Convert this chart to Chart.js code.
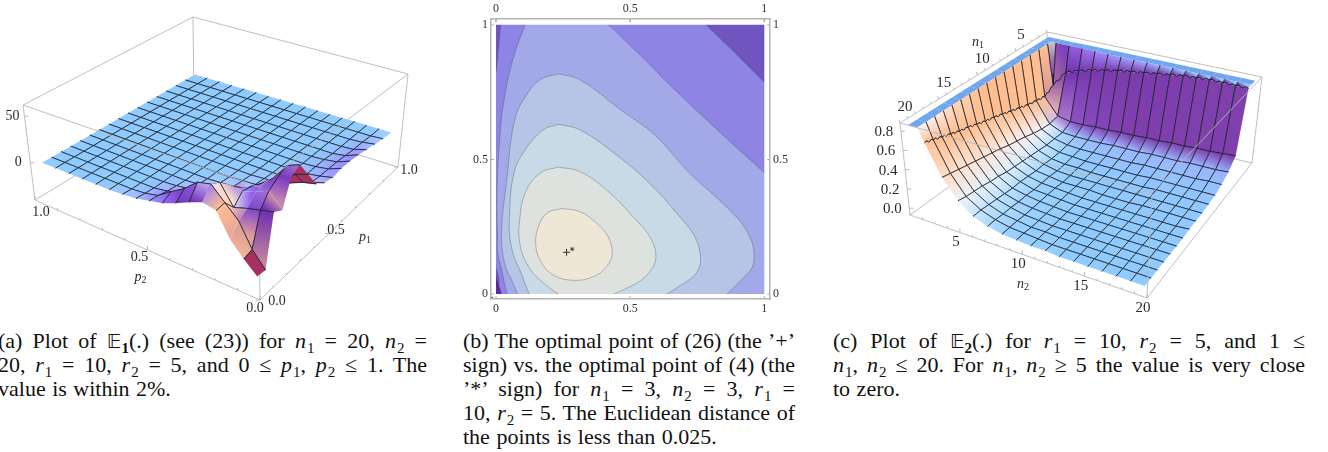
<!DOCTYPE html>
<html>
<head>
<meta charset="utf-8">
<script src="https://cdn.jsdelivr.net/npm/chart.js@4"></script>
<style>
body { margin: 0; background: #fff; overflow: hidden; }
canvas { position: absolute; }
.line { position: absolute; height: 24px; font: 22px/24px "Liberation Serif", serif; color: #111; text-align: justify; text-align-last: justify; }
.line.last { text-align: left; text-align-last: left; word-spacing: 1px; }
.line i { letter-spacing: 1px; }
.line sub { font-size: 15px; line-height: 0; }
.line .bb { font-family: "DejaVu Sans", serif; font-size: 20px; }
</style>
</head>
<body>
<canvas id="plotA" width="440" height="320" style="left:0;top:0"></canvas>
<canvas id="plotB" width="340" height="320" style="left:460px;top:0"></canvas>
<canvas id="plotC" width="420" height="320" style="left:870px;top:0"></canvas>
<div id="captions"></div>
<script>
// Plot (a): E1 over p1 (rows) and p2 (columns), 17 x 17 mesh points
var p1Ticks = [0, 0.5, 1];
var p2Ticks = [0, 0.5, 1];
var zTicksA = [0, 50];
var surfaceA = [
	[-25,-14,-1,21,24,19,13,8,5,2,1,0,0,0,0,0,0],
	[-26,-12,10,22,35,32,21,13,4,1,0,0,0,0,0,0,0],
	[21,18,15,11,30,22,12,6,2,0,0,0,0,0,0,0,0],
	[16,30,24,20,22,12,6,3,1,0,0,0,0,0,0,0,0],
	[41,36,26,18,12,6,3,1,0,0,0,0,0,0,0,0,0],
	[46,41,24,14,5,2,1,0,0,0,0,0,0,0,0,0,0],
	[30,26,14,4,2,1,0,0,0,0,0,0,0,0,0,0,0],
	[14,11,6,2,1,0,0,0,0,0,0,0,0,0,0,0,0],
	[8,4,2,1,0,0,0,0,0,0,0,0,0,0,0,0,0],
	[6,3,1,0,0,0,0,0,0,0,0,0,0,0,0,0,0],
	[8,3,1,0,0,0,0,0,0,0,0,0,0,0,0,0,0],
	[8,3,1,0,0,0,0,0,0,0,0,0,0,0,0,0,0],
	[7,2,0,0,0,0,0,0,0,0,0,0,0,0,0,0,0],
	[5,1,0,0,0,0,0,0,0,0,0,0,0,0,0,0,0],
	[3,1,0,0,0,0,0,0,0,0,0,0,0,0,0,0,0],
	[1,0,0,0,0,0,0,0,0,0,0,0,0,0,0,0,0],
	[0,0,0,0,0,0,0,0,0,0,0,0,0,0,0,0,0]
];
var meshStopsA = [0,1,2,3,4,5,6,7,8,9,10,11,12,13,14,15,16];

// Plot (b): contour outlines as [p, q] pairs, outermost first. Ends run past the 0..1 square, the mat and the chart area hide that
var bTickValues = [0, 0.5, 1];
var bTickLabels = ["0", "0.5", "1"];
var bandColors = ["#8e84e4", "#a3a8e8", "#b6c5e6", "#c8dae6", "#dde2df", "#efe7d6"];
var contour6 = [[0.019,1.018],[0.4,1.06],[0.725,1.06],[0.784,1],[0.856,0.93],[0.928,0.859],[1,0.788],[1.06,0.73],[1.06,0.4],[1.018,-0.018],[0.5,-0.018],[0.03,-0.018],[0.009,0.064],[-0.01,0.15],[-0.01,0.5],[-0.01,0.75],[0.002,0.839],[0.011,0.93]];
var contour5 = [[0.115,1.018],[0.25,1.05],[0.36,1.04],[0.524,0.901],[0.648,0.777],[0.846,0.591],[1,0.451],[1.05,0.405],[1.05,0.2],[1.018,-0.018],[0.5,-0.018],[0.09,-0.05],[0.015,0.114],[0.005,0.238],[0.005,0.424],[0.015,0.591],[0.027,0.703],[0.064,0.876]];
var contour4 = [[0.232,0.819],[0.164,0.796],[0.114,0.74],[0.071,0.653],[0.04,0.424],[0.021,0.238],[0.027,0.139],[0.052,0.064],[0.13,-0.05],[0.45,-0.07],[0.77,-0.05],[0.939,0.077],[0.962,0.139],[0.939,0.226],[0.871,0.312],[0.722,0.449],[0.592,0.591],[0.474,0.678],[0.313,0.796]];
var contour3 = [[0.233,0.631],[0.176,0.61],[0.108,0.535],[0.067,0.449],[0.05,0.287],[0.055,0.188],[0.083,0.102],[0.17,-0.05],[0.38,-0.07],[0.55,-0.04],[0.71,0.046],[0.753,0.089],[0.762,0.139],[0.741,0.213],[0.685,0.287],[0.573,0.411],[0.449,0.517],[0.313,0.61]];
var contour2 = [[0.232,0.472],[0.164,0.449],[0.108,0.374],[0.087,0.263],[0.087,0.201],[0.108,0.126],[0.164,0.052],[0.29,-0.03],[0.35,-0.03],[0.511,0.033],[0.573,0.083],[0.596,0.139],[0.573,0.213],[0.511,0.287],[0.412,0.387],[0.313,0.455]];
var contour1 = [[0.244,0.318],[0.189,0.3],[0.158,0.25],[0.148,0.188],[0.164,0.126],[0.213,0.071],[0.288,0.051],[0.362,0.064],[0.412,0.102],[0.433,0.149],[0.418,0.213],[0.375,0.263],[0.313,0.306]];
var cornerPatch = [[-0.01,-0.01],[-0.01,0.064],[0,0.064],[0.025,-0.01]];
var optimalPlus = [0.263, 0.155];
var optimalStar = [0.284, 0.167];

// Plot (c): E2 in hundredths over n1 (rows) and n2 (columns), the two first stops are the clipped top
var n1Ticks = [5, 10, 15, 20];
var n2Ticks = [5, 10, 15, 20];
var zTicksC = ["0.0", "0.2", "0.4", "0.6", "0.8"];
var meshStopsC = [0,0.6,1,2,3,4,5,6,7,8,9,10,11,12,13,14,15,16];
var surfaceC = [
	[86,86,86,86,86,86,86,86,86,86,86,86,86,86,86,86,86,86],
	[86,86,86,86,86,86,86,86,86,86,86,86,86,86,86,86,86,86],
	[86,86,40,58,63,67,70,73,75,77,79,81,83,84,85,85,85,85],
	[86,86,34,16,13,13,14,14,15,15,16,16,17,17,18,18,19,20],
	[86,86,36,14,8,7,7,7,8,8,8,9,9,9,10,10,10,11],
	[86,86,38,15,8,5,4,4,4,4,4,5,5,5,5,5,6,6],
	[86,86,41,17,8,4,3,2,2,2,2,2,3,3,3,3,3,3],
	[86,86,44,20,9,4,2,2,1,1,1,1,1,2,2,2,2,2],
	[86,86,47,22,10,5,2,1,1,1,1,1,1,1,1,1,1,1],
	[86,86,50,24,11,5,3,1,1,1,0,0,0,1,1,1,1,1],
	[86,86,52,27,12,6,3,2,1,0,0,0,0,0,0,0,0,1],
	[86,86,55,29,13,7,3,2,1,0,0,0,0,0,0,0,0,0],
	[86,86,58,31,15,7,4,2,1,0,0,0,0,0,0,0,0,0],
	[86,86,60,33,16,8,4,2,1,0,0,0,0,0,0,0,0,0],
	[86,86,63,35,18,9,5,2,1,0,0,0,0,0,0,0,0,0],
	[86,86,66,37,19,10,5,3,1,1,0,0,0,0,0,0,0,0],
	[86,86,69,39,20,11,6,3,2,1,0,0,0,0,0,0,0,0],
	[86,86,72,41,22,11,6,3,2,1,1,0,0,0,0,0,0,0]
];

var captionLinesA = [
	'(a) Plot of <span class="bb">𝔼</span><sub><b>1</b></sub>(.) (see (23)) for <i>n</i><sub>1</sub> = 20, <i>n</i><sub>2</sub> =',
	'20, <i>r</i><sub>1</sub> = 10, <i>r</i><sub>2</sub> = 5, and 0 ≤ <i>p</i><sub>1</sub>, <i>p</i><sub>2</sub> ≤ 1. The',
	'value is within 2%.'
];
var captionLinesB = [
	'(b) The optimal point of (26) (the ’+’',
	'sign) vs. the optimal point of (4) (the',
	'’*’ sign) for <i>n</i><sub>1</sub> = 3, <i>n</i><sub>2</sub> = 3, <i>r</i><sub>1</sub> =',
	'10, <i>r</i><sub>2</sub> = 5. The Euclidean distance of',
	'the points is less than 0.025.'
];
var captionLinesC = [
	'(c) Plot of <span class="bb">𝔼</span><sub><b>2</b></sub>(.) for <i>r</i><sub>1</sub> = 10, <i>r</i><sub>2</sub> = 5, and 1 ≤',
	'<i>n</i><sub>1</sub>, <i>n</i><sub>2</sub> ≤ 20. For <i>n</i><sub>1</sub>, <i>n</i><sub>2</sub> ≥ 5 the value is very close',
	'to zero.'
];

function addCaption(lines, left, width) {
	var holder = document.getElementById("captions");
	for (var i = 0; i < lines.length; i++) {
		var d = document.createElement("div");
		d.className = "line" + (i == lines.length - 1 ? " last" : "");
		d.style.left = left + "px";
		d.style.top = (329 + 24 * i) + "px";
		d.style.width = width + "px";
		d.innerHTML = lines[i];
		holder.appendChild(d);
	}
}
addCaption(captionLinesA, -2, 429);
addCaption(captionLinesB, 463, 332);
addCaption(captionLinesC, 833, 472);

// the box of a 3D plot is given by its 8 corners on the page, [u][v]
function project(box, u, v, w) {
	function mix(k) {
		var b = (1-u)*(1-v)*box.bottom[0][0][k] + u*(1-v)*box.bottom[1][0][k] + (1-u)*v*box.bottom[0][1][k] + u*v*box.bottom[1][1][k];
		var t = (1-u)*(1-v)*box.top[0][0][k] + u*(1-v)*box.top[1][0][k] + (1-u)*v*box.top[0][1][k] + u*v*box.top[1][1][k];
		return b + (t - b) * w;
	}
	return { x: mix(0), y: mix(1) };
}

var peachRamp = [[143,203,255],[205,234,255],[255,244,244],[255,216,188],[255,190,144]];
var purpleRamp = [[143,203,255],[154,168,255],[154,124,255],[132,72,216],[112,48,176]];

function rampColor(ramp, t) {
	var f = Math.min(0.9999, t) * (ramp.length - 1);
	var n = Math.floor(f);
	return mixColor(ramp[n], ramp[n+1], f - n);
}
function mixColor(a, b, t) {
	return [a[0]+(b[0]-a[0])*t, a[1]+(b[1]-a[1])*t, a[2]+(b[2]-a[2])*t];
}
function css(c) {
	return "rgb(" + Math.round(c[0]) + "," + Math.round(c[1]) + "," + Math.round(c[2]) + ")";
}

function buildSurface(cfg) {
	var rows = cfg.table.length, cols = cfg.table[0].length;
	var last = cfg.stops[cfg.stops.length - 1];
	function frac(s) { return cfg.inset + (1 - 2*cfg.inset) * s / last; }
	function wAt(i, j) { return (cfg.table[i][j] - cfg.zMin) / (cfg.zMax - cfg.zMin); }
	function pt(i, j) { return project(cfg.box, frac(cfg.stops[i]), frac(cfg.stops[j]), wAt(i, j)); }

	var o = project(cfg.box, 0.5, 0.5, 0.5);
	var su = project(cfg.box, 0.6, 0.5, 0.5), sv = project(cfg.box, 0.5, 0.6, 0.5);
	var sux = (su.x - o.x), svx = (sv.x - o.x);
	var sn = Math.sqrt(sux*sux + svx*svx);

	function vertexColor(i, j) {
		var i0 = Math.max(0, i-1), i1 = Math.min(rows-1, i+1);
		var j0 = Math.max(0, j-1), j1 = Math.min(cols-1, j+1);
		var gu = (wAt(i1, j) - wAt(i0, j)) / (frac(cfg.stops[i1]) - frac(cfg.stops[i0]));
		var gv = (wAt(i, j1) - wAt(i, j0)) / (frac(cfg.stops[j1]) - frac(cfg.stops[j0]));
		var steep = Math.sqrt(gu*gu + gv*gv);
		var nx = steep > 0 ? -(gu*sux + gv*svx) / (steep * sn) : 0;
		var t = Math.min(1, steep / cfg.slopeFull);
		return mixColor(rampColor(purpleRamp, t), rampColor(peachRamp, t), Math.max(0, Math.min(1, (nx * 1.6 + 1) / 2)));
	}

	// mesh segment, the first mesh line of plot (c) has small teeth
	function pushEdge(list, a, b, wavy) {
		if (wavy) {
			list.push(a,
				{ x: a.x + (b.x-a.x)*0.25, y: a.y + (b.y-a.y)*0.25 - 1.2 },
				{ x: a.x + (b.x-a.x)*0.5, y: a.y + (b.y-a.y)*0.5 + 0.8 },
				{ x: a.x + (b.x-a.x)*0.75, y: a.y + (b.y-a.y)*0.75 - 1.2 },
				b, { x: null, y: null });
		} else {
			list.push(a, b, { x: null, y: null });
		}
	}

	var cells = [];
	for (var i = 0; i < rows - 1; i++) {
		for (var j = 0; j < cols - 1; j++) {
			cells.push({ i: i, j: j, key: cfg.stops[i] + cfg.stops[j] });
		}
	}
	cells.sort(function(a, b) { return cfg.backFirst * (a.key - b.key); });

	var drawn = [];
	var ctx = cfg.ctx;
	for (var n = 0; n < cells.length; n++) {
		var i = cells[n].i, j = cells[n].j;
		var p00 = pt(i, j), p10 = pt(i+1, j), p11 = pt(i+1, j+1), p01 = pt(i, j+1);
		var area = (p10.x-p00.x)*(p11.y-p00.y) - (p11.x-p00.x)*(p10.y-p00.y)
			+ (p11.x-p00.x)*(p01.y-p00.y) - (p01.x-p00.x)*(p11.y-p00.y);
		var fill;
		var top = cfg.cap !== undefined && cfg.table[i][j] >= cfg.cap && cfg.table[i+1][j] >= cfg.cap && cfg.table[i][j+1] >= cfg.cap && cfg.table[i+1][j+1] >= cfg.cap;
		var dark = cfg.darkCell && cfg.darkCell(i, j);
		if (top) {
			fill = cfg.capColor;
		} else if (dark || area * cfg.frontSign < 0) {
			fill = "#a8305f";
		} else {
			var c00 = vertexColor(i, j), c10 = vertexColor(i+1, j), c11 = vertexColor(i+1, j+1), c01 = vertexColor(i, j+1);
			var du = Math.abs(c00[0]+c01[0]-c10[0]-c11[0]) + Math.abs(c00[1]+c01[1]-c10[1]-c11[1]) + Math.abs(c00[2]+c01[2]-c10[2]-c11[2]);
			var dv = Math.abs(c00[0]+c10[0]-c01[0]-c11[0]) + Math.abs(c00[1]+c10[1]-c01[1]-c11[1]) + Math.abs(c00[2]+c10[2]-c01[2]-c11[2]);
			var g;
			if (du >= dv) {
				g = ctx.createLinearGradient((p00.x+p01.x)/2 - cfg.left, (p00.y+p01.y)/2 - cfg.top, (p10.x+p11.x)/2 - cfg.left, (p10.y+p11.y)/2 - cfg.top);
				g.addColorStop(0, css(mixColor(c00, c01, 0.5)));
				g.addColorStop(1, css(mixColor(c10, c11, 0.5)));
			} else {
				g = ctx.createLinearGradient((p00.x+p10.x)/2 - cfg.left, (p00.y+p10.y)/2 - cfg.top, (p01.x+p11.x)/2 - cfg.left, (p01.y+p11.y)/2 - cfg.top);
				g.addColorStop(0, css(mixColor(c00, c10, 0.5)));
				g.addColorStop(1, css(mixColor(c01, c11, 0.5)));
			}
			fill = g;
		}
		drawn.push({ data: [p00, p10, p11, p01], showLine: true, fill: "shape", backgroundColor: fill, borderWidth: 0, pointRadius: 0 });

		// mesh lines, only on real mesh stops and not on the outer rim, none on the clipped top
		var edge = [];
		function show(dir, k, other) { return !cfg.meshRule || cfg.meshRule(dir, k, other); }
		if (!top) {
			if (cfg.meshFrom <= i && show("i", i, j)) pushEdge(edge, p00, p01, i == cfg.wavyStop);
			if (cfg.meshFrom <= i+1 && i+1 < rows-1 && show("i", i+1, j)) pushEdge(edge, p10, p11, i+1 == cfg.wavyStop);
			if (cfg.meshFrom <= j && show("j", j, i)) pushEdge(edge, p00, p10, j == cfg.wavyStop);
			if (cfg.meshFrom <= j+1 && j+1 < cols-1 && show("j", j+1, i)) pushEdge(edge, p01, p11, j+1 == cfg.wavyStop);
		}
		if (edge.length) {
			drawn.push({ data: edge, showLine: true, fill: false, borderColor: "#1c2430", borderWidth: 0.8, pointRadius: 0 });
		}
	}
	return drawn.reverse();
}

function boxLine(box, a, b) {
	return { data: [project(box, a[0], a[1], a[2]), project(box, b[0], b[1], b[2])], showLine: true, borderColor: "#b8b8b8", borderWidth: 0.9, pointRadius: 0, fill: false };
}
function tickMark(p, dx, dy) {
	return { data: [p, { x: p.x + dx, y: p.y + dy }], showLine: true, borderColor: "#a8a8a8", borderWidth: 0.8, pointRadius: 0, fill: false };
}

function textPlugin(items) {
	return {
		id: "axisText",
		afterDraw: function(chart) {
			var c = chart.ctx, sx = chart.scales.x, sy = chart.scales.y;
			c.save();
			c.fillStyle = "#2a2a2a";
			c.textAlign = "center";
			c.textBaseline = "middle";
			items.forEach(function(it) {
				var px = sx.getPixelForValue(it.x), py = sy.getPixelForValue(it.y);
				if (it.sub) {
					c.font = "italic " + it.size + 'px "Liberation Serif"';
					c.textAlign = "right";
					c.fillText(it.text, px, py);
					c.font = (it.size - 4) + 'px "Liberation Serif"';
					c.textAlign = "left";
					c.fillText(it.sub, px, py + 3);
					c.textAlign = "center";
				} else {
					c.font = it.size + 'px "Liberation Serif"';
					c.fillText(it.text, px, py);
				}
			});
			c.restore();
		}
	};
}

function pageChart(id, left, top, datasets, items) {
	var canvas = document.getElementById(id);
	return new Chart(canvas.getContext("2d"), {
		type: "scatter",
		data: { datasets: datasets },
		options: {
			responsive: false,
			animation: false,
			events: [],
			layout: { padding: 0 },
			plugins: { legend: { display: false }, tooltip: { enabled: false } },
			scales: {
				x: { type: "linear", display: false, min: left, max: left + canvas.width },
				y: { type: "linear", display: false, reverse: true, min: top, max: top + canvas.height }
			}
		},
		plugins: [textPlugin(items)]
	});
}

// ---- plot (a)
var boxA = {
	bottom: [[[260,300],[35,200]],[[398,167],[194,104]]],
	top: [[[259,187],[23,105]],[[408,74],[193,17]]]
};
var zMinA = -40, zMaxA = 62;
function wA(z) { return (z - zMinA) / (zMaxA - zMinA); }
var setsA = [];
setsA.push(boxLine(boxA, [0,0,1], [0,1,1]), boxLine(boxA, [0,0,1], [1,0,1]));
setsA.push(boxLine(boxA, [0,0,0], [0,1,0]), boxLine(boxA, [0,0,0], [1,0,0]), boxLine(boxA, [0,1,0], [0,1,1]));
for (var t = 0; t <= 10; t++) {
	setsA.push(tickMark(project(boxA, 0, t/10, 0), 0, t % 5 ? -2 : -4));
	setsA.push(tickMark(project(boxA, t/10, 0, 0), t % 5 ? -2 : -4, 0));
}
zTicksA.forEach(function(z) { setsA.push(tickMark(project(boxA, 0, 1, wA(z)), 4, 0)); });
setsA = setsA.concat(buildSurface({
	table: surfaceA, stops: meshStopsA, box: boxA, zMin: zMinA, zMax: zMaxA, inset: 0.03,
	slopeFull: 2, backFirst: -1, frontSign: -1, meshFrom: 1, left: 0, top: 0,
	ctx: document.getElementById("plotA").getContext("2d"),
	darkCell: function(i, j) { return i == 0 && j == 0; },
	// inside the pit only a few of the mesh lines can be seen
	meshRule: function(dir, k, other) {
		if (k < 5 && other < 5) {
			return dir == "i" ? (k == 1 || k == 2) : (k == 1 || k == 3);
		}
		return true;
	}
}));
setsA.push(boxLine(boxA, [0,0,0], [0,0,1]), boxLine(boxA, [0,1,1], [1,1,1]), boxLine(boxA, [1,0,1], [1,1,1]),
	boxLine(boxA, [1,1,0], [1,1,1]), boxLine(boxA, [1,0,0], [1,0,1]), boxLine(boxA, [1,1,0], [0,1,0]), boxLine(boxA, [1,1,0], [1,0,0]));

var itemsA = [];
var offsetsP2 = [[-5,8],[-8,7],[6,12]], offsetsP1 = [[17,1],[7,-3],[11,3]];
p2Ticks.forEach(function(v, n) {
	var p = project(boxA, 0, v, 0);
	itemsA.push({ x: p.x + offsetsP2[n][0], y: p.y + offsetsP2[n][1], text: v.toFixed(1), size: 14 });
});
p1Ticks.forEach(function(v, n) {
	var p = project(boxA, v, 0, 0);
	itemsA.push({ x: p.x + offsetsP1[n][0], y: p.y + offsetsP1[n][1], text: v.toFixed(1), size: 14 });
});
zTicksA.forEach(function(z) {
	var p = project(boxA, 0, 1, wA(z));
	itemsA.push({ x: p.x - 12, y: p.y, text: String(z), size: 14 });
});
var labelP2 = project(boxA, 0, 0.5, 0), labelP1 = project(boxA, 0.5, 0, 0);
itemsA.push({ x: labelP2.x - 6, y: labelP2.y + 27, text: "p", sub: "2", size: 14 });
itemsA.push({ x: labelP1.x + 37, y: labelP1.y + 4, text: "p", sub: "1", size: 14 });
pageChart("plotA", 0, 0, setsA, itemsA);

// ---- plot (b)
function bandSets(points, color) {
	var shape = points.map(function(p) { return { x: p[0], y: p[1] }; });
	shape.push({ x: points[0][0], y: points[0][1] });
	return [{ data: shape, showLine: true, fill: "shape", tension: 0.4, backgroundColor: color, borderColor: "rgba(70,70,90,0.5)", borderWidth: 0.7, pointRadius: 0 }];
}
var setsB = [];
setsB.push({ data: [{ x: optimalPlus[0], y: optimalPlus[1] }], pointStyle: "cross", pointRadius: 3.5, borderColor: "#333", borderWidth: 1 });
setsB.push({ data: [{ x: optimalStar[0], y: optimalStar[1] }], pointStyle: "star", pointRadius: 2.2, borderColor: "#333", borderWidth: 0.8 });
bTickValues.forEach(function(v) {
	setsB.push({ data: [{ x: v, y: -0.0186 }, { x: v, y: -0.008 }], showLine: true, borderColor: "#a8a8a8", borderWidth: 1, pointRadius: 0 });
	setsB.push({ data: [{ x: v, y: 1.0223 }, { x: v, y: 1.012 }], showLine: true, borderColor: "#a8a8a8", borderWidth: 1, pointRadius: 0 });
	setsB.push({ data: [{ x: -0.0186, y: v }, { x: -0.008, y: v }], showLine: true, borderColor: "#a8a8a8", borderWidth: 1, pointRadius: 0 });
	setsB.push({ data: [{ x: 1.0212, y: v }, { x: 1.011, y: v }], showLine: true, borderColor: "#a8a8a8", borderWidth: 1, pointRadius: 0 });
});
// white mat between the 0..1 square and the frame
setsB.push({ data: [{ x: -0.0105, y: -0.0105 }, { x: 1.0105, y: -0.0105 }, { x: 1.0105, y: 1.0115 }, { x: -0.0105, y: 1.0115 }, { x: -0.0105, y: -0.0105 }], showLine: true, fill: false, borderColor: "#fff", borderWidth: 5.6, pointRadius: 0 });
var contours = [contour6, contour5, contour4, contour3, contour2, contour1];
for (var c = contours.length - 1; c >= 1; c--) {
	setsB = setsB.concat(bandSets(contours[c], bandColors[c]));
}
setsB.push({ data: cornerPatch.map(function(p) { return { x: p[0], y: p[1] }; }), showLine: true, fill: "shape", backgroundColor: "#5a2a9c", borderWidth: 0, pointRadius: 0 });
setsB = setsB.concat(bandSets(contours[0], bandColors[0]));
setsB.push({ data: [{ x: -0.02, y: -0.02 }, { x: 1.02, y: -0.02 }, { x: 1.02, y: 1.02 }, { x: -0.02, y: 1.02 }], showLine: true, fill: "shape", backgroundColor: "#7054c0", borderWidth: 0, pointRadius: 0 });

function bAxis(position, fitSize) {
	var horizontal = position == "top" || position == "bottom";
	return {
		type: "linear",
		position: position,
		min: -0.0186,
		max: horizontal ? 1.0212 : 1.0223,
		grid: { display: true, drawOnChartArea: false, drawTicks: false },
		border: { display: true, color: "#b4b4b4", width: 1.5, z: 1 },
		afterBuildTicks: function(s) { s.ticks = bTickValues.map(function(v) { return { value: v }; }); },
		afterFit: function(s) { if (horizontal) { s.height = fitSize; } else { s.width = fitSize; } },
		ticks: {
			padding: 3,
			maxRotation: 0,
			autoSkip: false,
			color: "#333",
			font: { family: "Liberation Serif", size: 12 },
			callback: function(v) { return bTickLabels[bTickValues.indexOf(v)]; }
		}
	};
}
new Chart(document.getElementById("plotB").getContext("2d"), {
	type: "scatter",
	data: { datasets: setsB },
	options: {
		responsive: false,
		animation: false,
		events: [],
		layout: { padding: 0 },
		plugins: { legend: { display: false }, tooltip: { enabled: false } },
		scales: { x: bAxis("bottom", 21), x2: bAxis("top", 19), y: bAxis("left", 31), y2: bAxis("right", 30) }
	}
});

// ---- plot (c)
var boxC = {
	bottom: [[[1048,115],[1252,163]],[[910,215],[1147,298]]],
	top: [[[1047,32],[1262,77]],[[900,123],[1152,193]]]
};
var zMinC = -7, zMaxC = 88.5;
function wC(z) { return (z - zMinC) / (zMaxC - zMinC); }
var setsC = [];
setsC.push(boxLine(boxC, [1,0,1], [1,1,1]), boxLine(boxC, [0,1,1], [1,1,1]), boxLine(boxC, [1,1,0], [1,1,1]));
setsC.push(boxLine(boxC, [1,0,0], [1,1,0]), boxLine(boxC, [0,1,0], [1,1,0]), boxLine(boxC, [1,0,0], [1,0,1]), boxLine(boxC, [0,1,0], [0,1,1]));
setsC.push(boxLine(boxC, [0,0,1], [1,0,1]), boxLine(boxC, [0,0,1], [0,1,1]));
for (var t = 0; t <= 19; t++) {
	setsC.push(tickMark(project(boxC, 1, t/19, 0), 0, t % 5 == 4 ? -4 : -2));
	setsC.push(tickMark(project(boxC, t/19, 0, 1), -1, t % 5 == 4 ? -3 : -2));
}
zTicksC.forEach(function(s) { setsC.push(tickMark(project(boxC, 1, 0, wC(parseFloat(s) * 100)), 4, 0)); });
setsC = setsC.concat(buildSurface({
	table: surfaceC, stops: meshStopsC, box: boxC, zMin: zMinC, zMax: zMaxC, inset: 0.02,
	slopeFull: 6, backFirst: 1, frontSign: -1, meshFrom: 2, wavyStop: 2, left: 870, top: 0, cap: 86, capColor: "#6fa6ee",
	ctx: document.getElementById("plotC").getContext("2d")
}));
setsC.push(boxLine(boxC, [0,0,0], [1,0,0]), boxLine(boxC, [0,0,0], [0,1,0]), boxLine(boxC, [0,0,0], [0,0,1]));

var itemsC = [];
n2Ticks.forEach(function(n) {
	var p = project(boxC, 1, (n-1)/19, 0);
	itemsC.push({ x: p.x - 4, y: p.y + 10, text: String(n), size: 15 });
});
n1Ticks.forEach(function(n) {
	var p = project(boxC, (n-1)/19, 0, 1);
	itemsC.push({ x: p.x + 5, y: p.y - 16, text: String(n), size: 15 });
});
zTicksC.forEach(function(s) {
	var p = project(boxC, 1, 0, wC(parseFloat(s) * 100));
	itemsC.push({ x: p.x - 17, y: p.y + 1, text: s, size: 15 });
});
itemsC.push({ x: 1024, y: 284, text: "n", sub: "2", size: 14 });
itemsC.push({ x: 979, y: 42, text: "n", sub: "1", size: 14 });
pageChart("plotC", 870, 0, setsC, itemsC);
</script>
</body>
</html>
